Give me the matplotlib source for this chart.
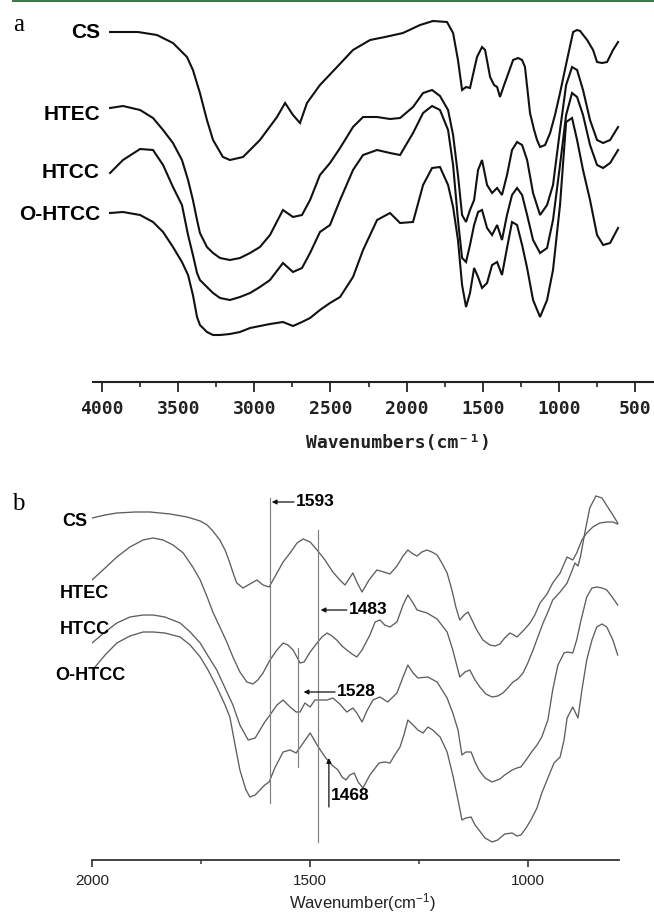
"""
FTIR spectra of CS and its derivatives (HTEC, HTCC, O-HTCC).
Panel a: full range, panel b: 2000-800 cm-1 with marked bands.
"""

import matplotlib
matplotlib.use("Agg")
import matplotlib.pyplot as plt
from matplotlib.patches import Rectangle
from matplotlib.ticker import MultipleLocator

plt.rcParams['mathtext.fontset'] = 'custom'
plt.rcParams['mathtext.rm'] = 'Liberation Sans'
plt.rcParams['mathtext.it'] = 'Liberation Sans:italic'
plt.rcParams['mathtext.bf'] = 'Liberation Sans:bold'

# ---------------- panel a data (wavenumber cm-1, transmittance a.u.) ----------------
wn_a_cs = [3947, 3764, 3639, 3534, 3442, 3403, 3357, 3311, 3271, 3206,
           3160, 3074, 2963, 2851, 2798, 2746, 2700, 2654, 2569, 2457,
           2352, 2240, 2142, 2024, 1912, 1827, 1735, 1695, 1663, 1636,
           1610, 1584, 1538, 1505, 1485, 1452, 1426, 1406, 1387, 1360,
           1341, 1301, 1269, 1242, 1223, 1190, 1163, 1144, 1124, 1091,
           1058, 1026, 993, 947, 907, 881, 861, 815, 776, 750,
           717, 684, 645, 612]
t_a_cs = [368, 368, 365, 357, 343, 330, 307, 280, 260, 243,
          240, 243, 260, 283, 297, 285, 277, 297, 315, 333,
          350, 360, 363, 367, 375, 379, 378, 367, 340, 310,
          313, 312, 343, 353, 350, 323, 315, 313, 303, 315,
          323, 340, 342, 340, 333, 287, 270, 260, 253, 255,
          267, 285, 307, 340, 368, 370, 369, 360, 350, 338,
          337, 338, 350, 358]

wn_a = [3947, 3862, 3750, 3665, 3599, 3534, 3475, 3435, 3403, 3376,
        3357, 3311, 3271, 3225, 3160, 3094, 3028, 2963, 2897, 2812,
        2746, 2687, 2634, 2569, 2503, 2437, 2352, 2286, 2194, 2109,
        2043, 1958, 1892, 1833, 1781, 1728, 1695, 1663, 1636, 1610,
        1584, 1557, 1531, 1505, 1472, 1439, 1406, 1374, 1341, 1308,
        1275, 1242, 1209, 1170, 1124, 1078, 1039, 993, 953, 914,
        881, 842, 796, 750, 710, 664, 612]
t_a_htec = [292, 294, 290, 282, 270, 257, 240, 220, 200, 180,
            167, 153, 147, 142, 140, 142, 147, 153, 165, 190,
            183, 185, 200, 225, 237, 252, 273, 283, 283, 281,
            282, 293, 307, 310, 304, 290, 265, 225, 185, 178,
            190, 200, 230, 240, 215, 207, 212, 205, 225, 250,
            258, 255, 240, 207, 185, 195, 215, 270, 315, 333,
            330, 310, 280, 260, 257, 260, 273]
t_a_htcc = [227, 240, 251, 250, 235, 213, 195, 165, 145, 127,
            120, 113, 107, 102, 100, 103, 107, 113, 120, 137,
            128, 132, 147, 168, 175, 200, 230, 245, 250, 247,
            245, 267, 287, 294, 290, 270, 235, 180, 142, 138,
            155, 175, 188, 190, 172, 165, 175, 160, 185, 205,
            212, 205, 185, 160, 147, 152, 180, 235, 285, 307,
            303, 285, 255, 235, 232, 237, 250]
t_a_ohtcc = [187, 188, 185, 178, 168, 153, 138, 125, 105, 83,
             75, 68, 65, 65, 66, 68, 72, 74, 76, 78,
             74, 78, 82, 90, 97, 103, 123, 150, 180, 187,
             177, 178, 215, 232, 233, 215, 193, 160, 115, 93,
             107, 132, 123, 112, 117, 135, 138, 125, 152, 178,
             175, 155, 132, 100, 83, 100, 130, 195, 278, 282,
             260, 230, 200, 165, 155, 157, 172]

# ---------------- panel b data ----------------
wn_b_cs = [2000, 1970, 1943, 1901, 1867, 1821, 1782, 1752, 1736, 1723,
           1707, 1695, 1684, 1675, 1668, 1654, 1638, 1622, 1608, 1594,
           1576, 1562, 1546, 1530, 1516, 1500, 1484, 1466, 1448, 1432,
           1420, 1411, 1402, 1393, 1381, 1365, 1347, 1331, 1317, 1301,
           1287, 1276, 1264, 1255, 1244, 1232, 1221, 1209, 1198, 1186,
           1175, 1166, 1157, 1147, 1138, 1129, 1118, 1104, 1088, 1076,
           1065, 1054, 1042, 1033, 1026, 1012, 996, 985, 973, 957,
           944, 927, 911, 898, 889, 877, 866, 852, 836, 820,
           806, 795]
t_b_cs = [382, 385, 387, 388, 388, 386, 383, 379, 375, 369,
          360, 350, 337, 325, 317, 312, 316, 320, 315, 313,
          327, 338, 347, 357, 361, 358, 350, 340, 328, 320,
          315, 321, 327, 318, 308, 320, 330, 328, 326, 334,
          344, 350, 346, 344, 348, 350, 348, 345, 337, 327,
          310, 293, 280, 285, 288, 280, 270, 260, 255, 254,
          256, 262, 267, 265, 263, 269, 277, 285, 297, 306,
          317, 327, 343, 340, 347, 360, 367, 373, 377, 378,
          378, 376]

wn_b_htec = [2000, 1970, 1943, 1913, 1883, 1860, 1837, 1814, 1791, 1769,
             1752, 1736, 1723, 1707, 1691, 1677, 1661, 1645, 1631, 1620,
             1608, 1592, 1576, 1562, 1551, 1539, 1523, 1514, 1500, 1484,
             1473, 1461, 1450, 1439, 1427, 1416, 1404, 1393, 1381, 1363,
             1351, 1340, 1329, 1317, 1301, 1287, 1276, 1264, 1255, 1232,
             1209, 1186, 1173, 1157, 1145, 1134, 1122, 1111, 1097, 1083,
             1070, 1058, 1047, 1035, 1024, 1012, 1001, 989, 978, 966,
             955, 944, 927, 911, 900, 893, 886, 880, 870, 859,
             845, 831, 818, 806, 795]
t_b_htec = [320, 332, 343, 353, 360, 362, 360, 355, 347, 333,
            320, 303, 288, 273, 258, 243, 228, 218, 216, 220,
            227, 240, 250, 257, 255, 250, 237, 238, 248, 257,
            263, 267, 264, 260, 254, 250, 246, 243, 250, 265,
            278, 280, 275, 273, 278, 295, 305, 297, 290, 287,
            281, 268, 250, 223, 228, 230, 220, 213, 206, 203,
            204, 207, 212, 218, 221, 227, 237, 250, 263, 277,
            288, 300, 308, 317, 329, 337, 334, 344, 368, 392,
            404, 402, 393, 385, 377]

wn_b_htcc = [2000, 1970, 1943, 1913, 1883, 1860, 1833, 1798, 1775, 1752,
             1734, 1714, 1695, 1677, 1661, 1642, 1626, 1615, 1604, 1592,
             1576, 1562, 1546, 1532, 1523, 1512, 1500, 1489, 1477, 1461,
             1448, 1432, 1416, 1402, 1393, 1381, 1370, 1356, 1340, 1322,
             1301, 1287, 1276, 1264, 1253, 1230, 1209, 1186, 1173, 1161,
             1152, 1143, 1131, 1122, 1113, 1099, 1083, 1065, 1054, 1037,
             1026, 1017, 1005, 994, 980, 969, 955, 944, 932, 918,
             911, 898, 889, 880, 866, 854, 843, 831, 820, 806,
             795]
t_b_htcc = [257, 268, 277, 283, 285, 285, 283, 277, 268, 257,
            244, 230, 212, 195, 175, 160, 162, 170, 178, 185,
            195, 200, 193, 188, 188, 197, 193, 200, 200, 200,
            202, 196, 188, 192, 187, 178, 189, 200, 203, 198,
            207, 223, 235, 227, 222, 223, 218, 202, 187, 170,
            145, 148, 148, 138, 130, 122, 118, 121, 125, 130,
            132, 133, 140, 147, 155, 163, 180, 210, 235, 247,
            248, 247, 260, 278, 303, 312, 313, 312, 310, 302,
            295]

wn_b_ohtcc = [1993, 1970, 1943, 1913, 1883, 1860, 1833, 1798, 1775, 1752,
              1734, 1714, 1695, 1684, 1672, 1661, 1647, 1638, 1626, 1615,
              1604, 1594, 1581, 1562, 1546, 1532, 1516, 1500, 1484, 1466,
              1450, 1436, 1427, 1418, 1409, 1399, 1390, 1379, 1363, 1342,
              1329, 1317, 1306, 1294, 1285, 1276, 1264, 1253, 1241, 1230,
              1219, 1202, 1186, 1173, 1161, 1152, 1143, 1131, 1122, 1113,
              1099, 1083, 1070, 1054, 1037, 1026, 1017, 1005, 994, 980,
              969, 955, 941, 927, 918, 911, 898, 886, 877, 866,
              854, 843, 831, 820, 806, 795]
t_b_ohtcc = [233, 245, 257, 264, 268, 268, 267, 263, 255, 243,
             230, 213, 195, 183, 155, 130, 110, 103, 105, 110,
             115, 118, 132, 148, 150, 147, 157, 167, 155, 143,
             135, 130, 123, 120, 125, 127, 118, 112, 125, 137,
             138, 137, 145, 153, 165, 180, 175, 170, 167, 173,
             170, 163, 148, 125, 100, 80, 82, 83, 75, 70,
             62, 58, 60, 66, 67, 64, 65, 72, 80, 92,
             107, 122, 137, 143, 160, 182, 193, 182, 210, 240,
             260, 273, 276, 273, 260, 245]

labels = ['CS', 'HTEC', 'HTCC', 'O-HTCC']
marked_bands = [1593, 1528, 1483]

W, H = 654, 916
fig = plt.figure(figsize=(W / 100, H / 100), dpi=100)

# green rule at the top of the page
fig.add_artist(Rectangle((12 / W, 1 - 2 / H), 1 - 12 / W, 2 / H,
                         transform=fig.transFigure, color='#3d7b48', lw=0))

# ================= panel a =================
ax_a = fig.add_axes([93 / W, 1 - 382 / H, 1 - 93 / W, 372 / H])
ax_a.set_xlim(4059, 376)
ax_a.set_ylim(18, 390)
for xs, ys in [(wn_a_cs, t_a_cs), (wn_a, t_a_htec), (wn_a, t_a_htcc), (wn_a, t_a_ohtcc)]:
    ax_a.plot(xs, ys, color='#111111', lw=1.5, solid_joinstyle='miter')

for s in ['top', 'left', 'right']:
    ax_a.spines[s].set_visible(False)
ax_a.spines['bottom'].set_linewidth(1.5)
ax_a.spines['bottom'].set_color('#222222')
ax_a.set_yticks([])
ax_a.xaxis.set_major_locator(MultipleLocator(500))
ax_a.xaxis.set_minor_locator(MultipleLocator(250))
ax_a.tick_params(axis='x', which='major', direction='out', length=7, width=1.3,
                 color='#222222', pad=6, labelsize=13)
ax_a.tick_params(axis='x', which='minor', direction='out', length=3.5, width=1.2,
                 color='#222222')
plt.setp(ax_a.get_xticklabels(), fontfamily='DejaVu Sans Mono', fontweight='bold',
         color='#222222')

label_pos_a = [368, 286, 227, 185]
for name, yv in zip(labels, label_pos_a):
    ax_a.text(4013, yv, name, ha='right', va='center', fontsize=15,
              fontweight='bold', family='Liberation Sans')

fig.text(398 / W, 1 - 443 / H, 'Wavenumbers(cm\u207b\u00b9)', ha='center', va='center',
         family=['DejaVu Sans Mono', 'DejaVu Sans'], fontweight='bold', fontsize=13,
         color='#222222')
fig.text(19 / W, 1 - 25 / H, 'a', ha='center', va='center', fontsize=18,
         family='Liberation Serif')

# ================= panel b =================
ax_b = fig.add_axes([92 / W, 1 - 860 / H, 527 / W, 365 / H])
ax_b.set_xlim(2000, 792)
ax_b.set_ylim(40, 405)
for xs, ys in [(wn_b_cs, t_b_cs), (wn_b_htec, t_b_htec),
               (wn_b_htcc, t_b_htcc), (wn_b_ohtcc, t_b_ohtcc)]:
    ax_b.plot(xs, ys, color='#5e5e5e', lw=0.95)

# vertical band markers
band_spans = [(97, 402), (133, 252), (58, 370)]
for wn, (y0, y1) in zip(marked_bands, band_spans):
    ax_b.plot([wn, wn], [y0, y1], color='#808080', lw=0.85)

arrow_kw = dict(arrowstyle='-|>', color='#111111', lw=0.9, mutation_scale=7,
                shrinkA=0, shrinkB=0)
ax_b.annotate('', xy=(1588, 398), xytext=(1537, 398), arrowprops=arrow_kw)
ax_b.text(1533, 398, '1593', ha='left', va='center', fontsize=12.5,
          fontweight='bold', family='Liberation Sans')
ax_b.annotate('', xy=(1476, 290), xytext=(1416, 290), arrowprops=arrow_kw)
ax_b.text(1411, 290, '1483', ha='left', va='center', fontsize=12.5,
          fontweight='bold', family='Liberation Sans')
ax_b.annotate('', xy=(1515, 208), xytext=(1443, 208), arrowprops=arrow_kw)
ax_b.text(1438, 208, '1528', ha='left', va='center', fontsize=12.5,
          fontweight='bold', family='Liberation Sans')
ax_b.annotate('', xy=(1457, 142), xytext=(1457, 93), arrowprops=arrow_kw)
ax_b.text(1452, 105, '1468', ha='left', va='center', fontsize=12.5,
          fontweight='bold', family='Liberation Sans')

for s in ['top', 'left', 'right']:
    ax_b.spines[s].set_visible(False)
ax_b.spines['bottom'].set_linewidth(1.3)
ax_b.spines['bottom'].set_color('#333333')
ax_b.set_yticks([])
ax_b.xaxis.set_major_locator(MultipleLocator(500))
ax_b.xaxis.set_minor_locator(MultipleLocator(250))
ax_b.tick_params(axis='x', which='major', direction='out', length=5, width=1.2,
                 color='#333333', pad=5, labelsize=11)
ax_b.tick_params(axis='x', which='minor', direction='out', length=3, width=1.1,
                 color='#333333')
plt.setp(ax_b.get_xticklabels(), fontfamily='Liberation Sans', color='#222222')

label_pos_b = [(2069, 378), (2073, 307), (2073, 270), (2085, 225)]
for name, (xv, yv) in zip(labels, label_pos_b):
    ax_b.text(xv, yv, name, ha='left', va='center', fontsize=13,
              fontweight='bold', family='Liberation Sans')

fig.text(362 / W, 1 - 903 / H, 'Wavenumber(cm$^{-1}$)', ha='center', va='center',
         family='Liberation Sans', fontsize=12, color='#222222')
fig.text(18 / W, 1 - 504 / H, 'b', ha='center', va='center', fontsize=18,
         family='Liberation Serif')

fig.savefig('out.png', dpi=100)
